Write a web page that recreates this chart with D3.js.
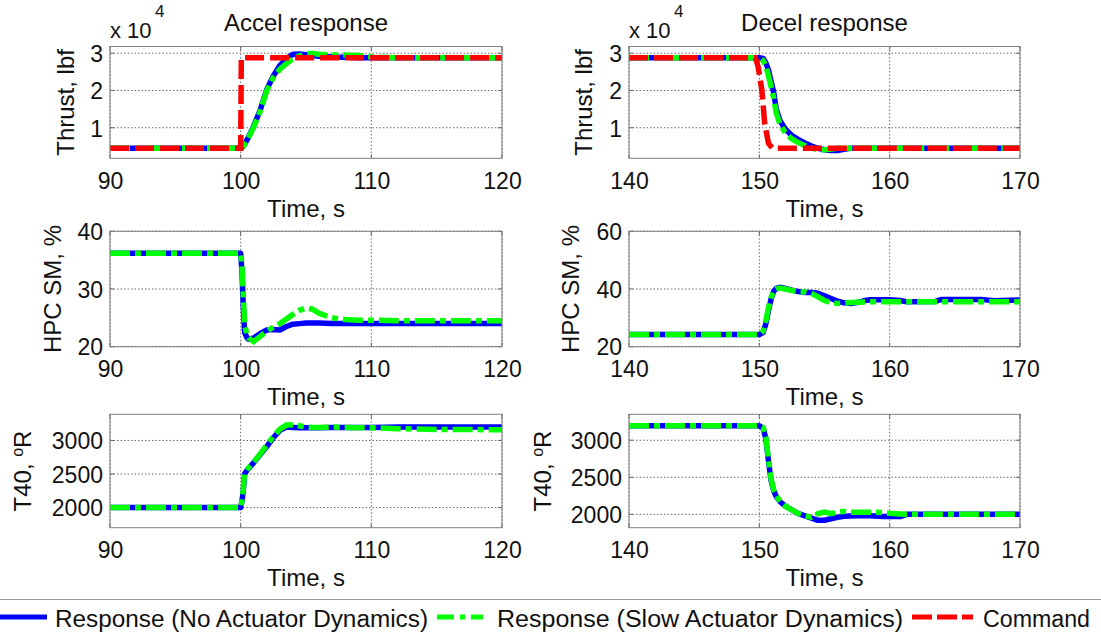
<!DOCTYPE html>
<html>
<head>
<meta charset="utf-8">
<script src="https://cdn.jsdelivr.net/npm/d3@7"></script>
<style>
  body { margin: 0; background: #fff; }
  text { font-family: "Liberation Sans", Arial, sans-serif; fill: #111; }
</style>
</head>
<body>
<div id="chart"></div>
<script>
// time samples (s)
var accelTime = [90, 100, 100.1, 100.2, 100.3, 100.5, 100.6, 101, 101.5, 102, 102.5, 103, 103.5, 104, 104.5, 105, 105.5, 106, 107, 108, 109, 110, 112, 115, 120];
var decelTime = [140, 150, 150.3, 150.5, 150.7, 150.9, 151.1, 151.3, 151.6, 152, 152.5, 153, 153.5, 154, 154.5, 155, 155.5, 156, 156.5, 157, 157.5, 158, 158.5, 159.5, 160, 160.8, 161.3, 163.5, 164, 167, 168, 170];

// accel series
var accelThrustNoAct = [4500, 4500, 4700, 5100, 5600, 6800, 7500, 10500, 14800, 20300, 23900, 26700, 28600, 29700, 29800, 29600, 29400, 29200, 29000, 28900, 28800, 28800, 28800, 28800, 28800];
var accelThrustSlow = [4500, 4500, 4650, 5000, 5500, 6600, 7300, 10200, 14500, 20000, 23500, 25700, 27200, 28500, 29300, 29900, 29900, 29700, 29500, 29500, 29400, 29000, 28800, 28800, 28800];
var accelCmdTime = [90, 100, 100.05, 120];
var accelThrustCmd = [4500, 4500, 28800, 28800];
var accelHpcNoAct = [36.2, 36.2, 33, 27, 22.5, 21.5, 21.3, 21.5, 22.3, 22.9, 23.0, 22.9, 23.5, 23.9, 24.0, 24.1, 24.1, 24.1, 24.0, 24.0, 24.0, 24.0, 24.0, 24.0, 24.0];
var accelHpcSlow = [36.2, 36.2, 34, 29, 24, 21.8, 21.5, 20.9, 21.8, 22.7, 23.4, 24.0, 24.8, 25.6, 26.3, 26.7, 26.5, 25.8, 25.0, 24.7, 24.6, 24.6, 24.5, 24.5, 24.5];
var accelT40NoAct = [2000, 2000, 2100, 2250, 2500, 2560, 2580, 2670, 2790, 2910, 3040, 3150, 3200, 3195, 3190, 3190, 3190, 3190, 3195, 3195, 3195, 3195, 3200, 3200, 3200];
var accelT40Slow = [2000, 2000, 2100, 2280, 2510, 2570, 2590, 2680, 2800, 2930, 3060, 3170, 3230, 3235, 3220, 3200, 3195, 3195, 3200, 3195, 3190, 3190, 3175, 3165, 3160];

// decel series
var decelThrustNoAct = [28800, 28800, 28600, 27400, 25500, 22500, 19500, 15000, 11800, 9600, 7900, 6800, 5900, 5100, 4500, 4100, 3900, 3900, 4200, 4500, 4500, 4500, 4500, 4500, 4500, 4500, 4500, 4500, 4500, 4500, 4500, 4500];
var decelThrustSlow = [28800, 28800, 28000, 26500, 24000, 21000, 18000, 14000, 10800, 8600, 7000, 6000, 5200, 4500, 4100, 4100, 4300, 4500, 4500, 4500, 4500, 4500, 4500, 4500, 4500, 4500, 4500, 4500, 4500, 4500, 4500, 4500];
var decelCmdTime = [140, 149.7, 149.9, 150.2, 150.4, 150.7, 151.0, 170];
var decelThrustCmd = [28800, 28800, 26500, 20000, 11500, 5800, 4500, 4500];
var decelHpcNoAct = [24.2, 24.2, 25, 28, 32.5, 36.5, 39.2, 40.2, 40.6, 40.2, 39.6, 39.1, 38.8, 38.8, 38.5, 37.6, 36.7, 35.8, 35.2, 35.0, 35.3, 35.9, 36.3, 36.3, 36.3, 36.0, 35.6, 35.7, 36.4, 36.4, 35.9, 36.2];
var decelHpcSlow = [24.2, 24.2, 25.5, 29, 33.5, 37, 39.3, 40.0, 40.3, 40.0, 39.5, 39.1, 39.0, 38.4, 37.3, 36.0, 35.2, 35.0, 35.1, 35.3, 35.4, 35.5, 35.6, 35.6, 35.6, 35.6, 35.6, 35.6, 35.6, 35.6, 35.6, 35.6];
var decelT40NoAct = [3195, 3195, 3160, 3020, 2720, 2460, 2320, 2240, 2170, 2110, 2060, 2010, 1980, 1950, 1920, 1920, 1940, 1960, 1975, 1978, 1980, 1980, 1980, 1970, 1970, 1970, 2000, 2000, 2000, 2000, 2000, 2000];
var decelT40Slow = [3195, 3195, 3170, 3040, 2740, 2480, 2330, 2250, 2170, 2110, 2060, 2010, 1980, 1960, 2010, 2030, 2010, 2030, 2040, 2030, 2030, 2030, 2030, 2025, 2015, 2005, 2000, 2000, 2000, 2000, 2000, 2000];

// ticks
var accelTicks = [90, 100, 110, 120];
var decelTicks = [140, 150, 160, 170];
var thrustTicks = [10000, 20000, 30000];
var thrustTickLabels = ["1", "2", "3"];
var hpcAccelTicks = [20, 30, 40];
var hpcDecelTicks = [20, 40, 60];
var t40Ticks = [2000, 2500, 3000];

var legendLabels = ["Response (No Actuator Dynamics)", "Response (Slow Actuator Dynamics)", "Command"];

var blue = "#0000ff", green = "#00ff00", red = "#ff0000";
var lineW = 5.5;

var svg = d3.select("#chart").append("svg")
  .attr("width", 1101)
  .attr("height", 636);

var rows = [
  { y0: 46.5, y1: 158.3 },
  { y0: 231.3, y1: 346.7 },
  { y0: 414.3, y1: 527.7 }
];
var cols = [
  { x0: 110, x1: 502 },
  { x0: 629, x1: 1020 }
];

var panels = [
  { r: 0, c: 0, xd: [90, 120], xt: accelTicks, yd: [1800, 31800], yt: thrustTicks, ytl: thrustTickLabels, title: "Accel response", ylab: "Thrust, lbf", labOff: 36,
    t: accelTime, no: accelThrustNoAct, slow: accelThrustSlow, ct: accelCmdTime, cmd: accelThrustCmd },
  { r: 0, c: 1, xd: [140, 170], xt: decelTicks, yd: [1800, 31800], yt: thrustTicks, ytl: thrustTickLabels, title: "Decel response", ylab: "Thrust, lbf", labOff: 37,
    t: decelTime, no: decelThrustNoAct, slow: decelThrustSlow, ct: decelCmdTime, cmd: decelThrustCmd },
  { r: 1, c: 0, xd: [90, 120], xt: accelTicks, yd: [20, 40], yt: hpcAccelTicks, ylab: "HPC SM, %", labOff: 49,
    t: accelTime, no: accelHpcNoAct, slow: accelHpcSlow },
  { r: 1, c: 1, xd: [140, 170], xt: decelTicks, yd: [20, 60], yt: hpcDecelTicks, ylab: "HPC SM, %", labOff: 50,
    t: decelTime, no: decelHpcNoAct, slow: decelHpcSlow },
  { r: 2, c: 0, xd: [90, 120], xt: accelTicks, yd: [1700, 3390], yt: t40Ticks, ylab: "T40", labOff: 79,
    t: accelTime, no: accelT40NoAct, slow: accelT40Slow },
  { r: 2, c: 1, xd: [140, 170], xt: decelTicks, yd: [1820, 3350], yt: t40Ticks, ylab: "T40", labOff: 78,
    t: decelTime, no: decelT40NoAct, slow: decelT40Slow }
];

panels.forEach(function (p, i) {
  var box = { x0: cols[p.c].x0, x1: cols[p.c].x1, y0: rows[p.r].y0, y1: rows[p.r].y1 };
  var x = d3.scaleLinear().domain(p.xd).range([box.x0, box.x1]);
  var y = d3.scaleLinear().domain(p.yd).range([box.y1, box.y0]);

  svg.append("clipPath").attr("id", "clip" + i)
    .append("rect")
    .attr("x", box.x0).attr("y", box.y0)
    .attr("width", box.x1 - box.x0).attr("height", box.y1 - box.y0);

  // grid
  var grid = svg.append("g");
  grid.selectAll(".gx").data(p.xt).enter().append("line")
    .attr("x1", function (d) { return x(d); }).attr("x2", function (d) { return x(d); })
    .attr("y1", box.y0).attr("y2", box.y1)
    .attr("stroke", "#444").attr("stroke-width", 0.8).attr("stroke-dasharray", "1.5,2");
  grid.selectAll(".gy").data(p.yt).enter().append("line")
    .attr("y1", function (d) { return y(d); }).attr("y2", function (d) { return y(d); })
    .attr("x1", box.x0).attr("x2", box.x1)
    .attr("stroke", "#444").attr("stroke-width", 0.8).attr("stroke-dasharray", "1.5,2");

  // axes (labels only)
  var xa = svg.append("g")
    .attr("transform", "translate(0," + box.y1 + ")")
    .call(d3.axisBottom(x).tickValues(p.xt).tickSize(0).tickFormat(d3.format("d")));
  xa.select(".domain").remove();
  xa.selectAll("text").attr("y", 30.5).attr("dy", null)
    .style("font-size", "23px").attr("fill", "#111");

  var ya = svg.append("g")
    .attr("transform", "translate(" + box.x0 + ",0)")
    .call(d3.axisLeft(y).tickValues(p.yt).tickSize(0)
      .tickFormat(function (d, k) { return p.ytl ? p.ytl[k] : d; }));
  ya.select(".domain").remove();
  ya.selectAll("text").attr("x", -7).attr("dy", "0.36em")
    .style("font-size", "23px").attr("fill", "#111");

  // small inner ticks
  var tk = svg.append("g").attr("stroke", "#666").attr("stroke-width", 1);
  p.xt.forEach(function (d) {
    tk.append("line").attr("x1", x(d)).attr("x2", x(d)).attr("y1", box.y1).attr("y2", box.y1 - 4);
    tk.append("line").attr("x1", x(d)).attr("x2", x(d)).attr("y1", box.y0).attr("y2", box.y0 + 4);
  });
  p.yt.forEach(function (d) {
    tk.append("line").attr("y1", y(d)).attr("y2", y(d)).attr("x1", box.x0).attr("x2", box.x0 + 4);
    tk.append("line").attr("y1", y(d)).attr("y2", y(d)).attr("x1", box.x1).attr("x2", box.x1 - 4);
  });

  // lines
  var line = d3.line().x(function (d) { return x(d[0]); }).y(function (d) { return y(d[1]); });
  var lg = svg.append("g").attr("clip-path", "url(#clip" + i + ")").attr("fill", "none");
  lg.append("path").attr("d", line(d3.zip(p.t, p.no)))
    .attr("stroke", blue).attr("stroke-width", lineW).attr("stroke-linejoin", "round");
  lg.append("path").attr("d", line(d3.zip(p.t, p.slow)))
    .attr("stroke", green).attr("stroke-width", lineW).attr("stroke-dasharray", "20,5,6,5");
  if (p.cmd) {
    lg.append("path").attr("d", line(d3.zip(p.ct, p.cmd)))
      .attr("stroke", red).attr("stroke-width", lineW).attr("stroke-dasharray", "19,6");
  }

  // box
  svg.append("rect")
    .attr("x", box.x0).attr("y", box.y0)
    .attr("width", box.x1 - box.x0).attr("height", box.y1 - box.y0)
    .attr("fill", "none").attr("stroke", "#808080").attr("stroke-width", 1);

  // x label
  svg.append("text")
    .attr("x", (box.x0 + box.x1) / 2).attr("y", box.y1 + 58.5)
    .attr("text-anchor", "middle").style("font-size", "24px")
    .text("Time, s");

  // y label
  var yl = svg.append("text")
    .attr("transform", "translate(" + (box.x0 - p.labOff) + "," + ((box.y0 + box.y1) / 2) + ") rotate(-90)")
    .attr("text-anchor", "middle").style("font-size", "24px");
  if (p.ylab === "T40") {
    yl.append("tspan").text("T40, ");
    yl.append("tspan").attr("dy", -8).style("font-size", "16px").text("o");
    yl.append("tspan").attr("dy", 8).text("R");
  } else {
    yl.text(p.ylab);
  }

  // title and exponent
  if (p.title) {
    svg.append("text")
      .attr("x", (box.x0 + box.x1) / 2).attr("y", 30.5)
      .attr("text-anchor", "middle").style("font-size", "24px")
      .text(p.title);
    svg.append("text").attr("x", box.x0).attr("y", 38).style("font-size", "22px").text("x 10");
    svg.append("text").attr("x", box.x0 + 45).attr("y", 17).style("font-size", "17px").text("4");
  }
});

// legend
svg.append("line").attr("x1", 0).attr("x2", 1101).attr("y1", 599.5).attr("y2", 599.5)
  .attr("stroke", "#999").attr("stroke-width", 1.2);

var legend = [
  { x1: 0, x2: 47, tx: 55, tw: 373, color: blue, dash: null },
  { x1: 437, x2: 483, tx: 497, tw: 406, color: green, dash: "17,6,5,6" },
  { x1: 912, x2: 973, tx: 983, tw: 107, color: red, dash: "20,5" }
];
legend.forEach(function (l, k) {
  svg.append("line").attr("x1", l.x1).attr("x2", l.x2).attr("y1", 617).attr("y2", 617)
    .attr("stroke", l.color).attr("stroke-width", 5)
    .attr("stroke-dasharray", l.dash);
  svg.append("text").attr("x", l.tx).attr("y", 627)
    .style("font-size", "23px")
    .attr("textLength", l.tw).attr("lengthAdjust", "spacingAndGlyphs")
    .text(legendLabels[k]);
});
</script>
</body>
</html>
